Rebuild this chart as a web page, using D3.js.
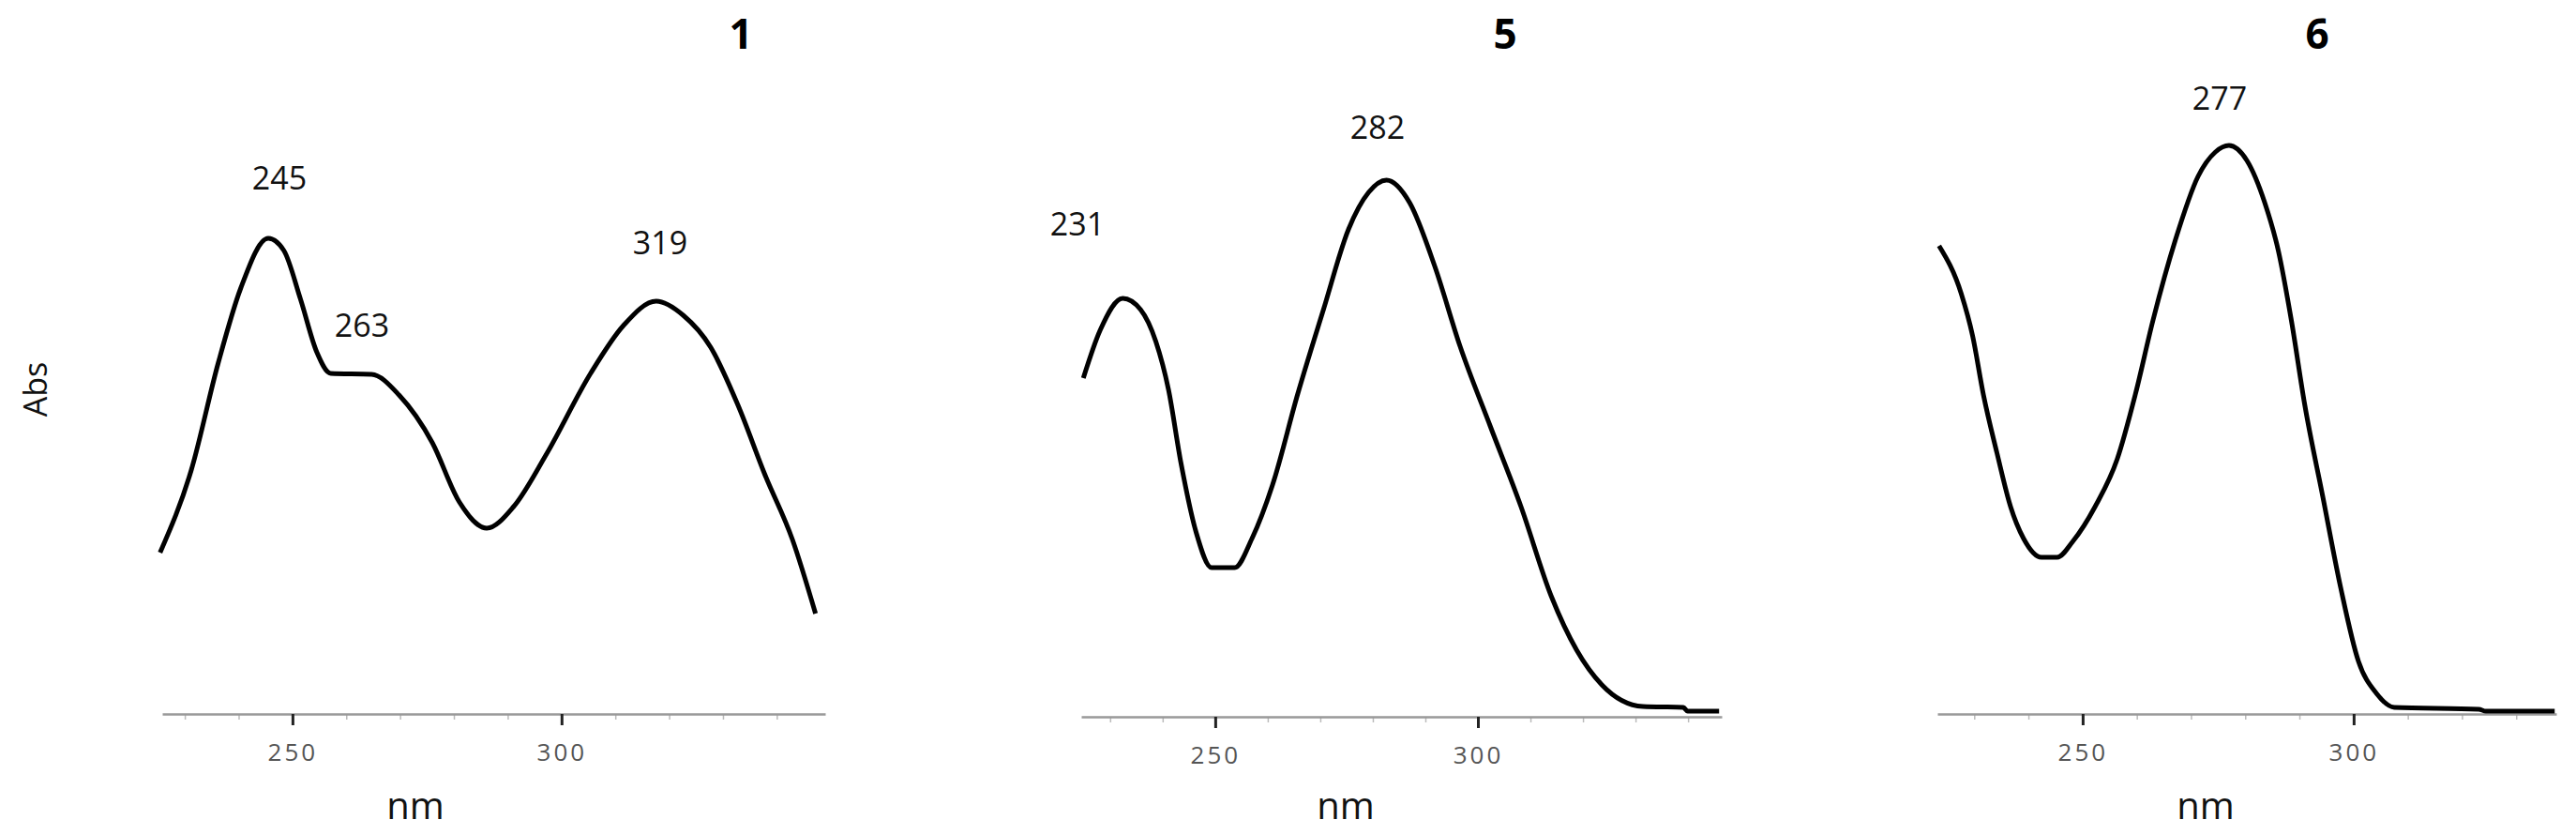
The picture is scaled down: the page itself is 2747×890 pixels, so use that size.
<!DOCTYPE html>
<html><head><meta charset="utf-8">
<script src="https://cdn.jsdelivr.net/npm/d3@7"></script>
<style>body{margin:0;background:#fff}</style></head>
<body><svg id="c" width="2747" height="890"></svg>
<script>
// Panel 1 (compound 1)
const nm1 = [225.4,231.2,236.2,240.4,245.5,248.4,251.5,254.5,257.1,264.7,269.8,276,281,286.1,291.1,297.2,305.4,311.5,317.6,322.6,327.7,332.8,337.8,342.9,347.2];
const abs1 = [0.172,0.260,0.374,0.454,0.507,0.494,0.442,0.386,0.363,0.362,0.340,0.289,0.226,0.198,0.221,0.277,0.363,0.414,0.440,0.425,0.391,0.329,0.255,0.186,0.107];
// Panel 2 (compound 5)
const nm5 = [224.9,228.1,232.4,235.8,238.7,241.1,243.5,246.4,249.3,253.7,257.0,260.9,265.7,270.6,275.4,279.2,282.6,287,291.8,296.6,302.4,308.2,314,318.8,323.6,331.4,339.1,339.9,345.9];
const abs5 = [0.361,0.412,0.446,0.434,0.400,0.349,0.270,0.196,0.159,0.159,0.190,0.247,0.344,0.434,0.520,0.559,0.572,0.548,0.480,0.395,0.309,0.224,0.128,0.071,0.034,0.011,0.010,0.006,0.006];
// Panel 3 (compound 6)
const nm6 = [223.5,227.6,229.7,231.7,234.2,236.7,239.1,242.4,245.3,248.2,252.3,256.4,259.7,263,267.1,271.3,274.5,277,280.3,283.6,286.1,288.5,291,294.3,297.6,300.9,304.2,307.5,323.1,324.4,337.1];
const abs6 = [0.499,0.448,0.403,0.340,0.278,0.221,0.187,0.167,0.167,0.184,0.221,0.272,0.340,0.420,0.505,0.573,0.599,0.606,0.590,0.545,0.494,0.420,0.329,0.232,0.135,0.056,0.022,0.007,0.005,0.003,0.003];
const titles = ["1","5","6"];
const tickValues = [250,300];
const peakNm1 = [245,263,319], peakNm5 = [231,282], peakNm6 = [277];

const panels = [
  {nm:nm1, abs:abs1, title:titles[0], peaks:peakNm1, x0:173, x1:880, d:[225.8,349], base:761,
   titleX:790, nmX:443, peakPos:[[298,190],[386,347],[704,259]]},
  {nm:nm5, abs:abs5, title:titles[1], peaks:peakNm5, x0:1153, x1:1836, d:[224.5,346.4], base:764,
   titleX:1605, nmX:1435, peakPos:[[1149,239],[1469,136]]},
  {nm:nm6, abs:abs6, title:titles[2], peaks:peakNm6, x0:2066, x1:2726, d:[223.2,337.4], base:761,
   titleX:2471, nmX:2352, peakPos:[[2367,105]]}
];
const svg = d3.select("#c");
const F = "'Open Sans', 'DejaVu Sans', sans-serif";

panels.forEach(p => {
  const x = d3.scaleLinear().domain(p.d).range([p.x0, p.x1]);
  const y = d3.scaleLinear().domain([0, 0.761]).range([p.base, p.base - 761]);
  const g = svg.append("g");
  // minor ticks
  const minor = d3.range(Math.ceil(p.d[0]/10)*10, p.d[1], 10).filter(v => v % 50 !== 0);
  g.append("g").attr("transform", `translate(0,${p.base})`)
    .call(d3.axisBottom(x).tickValues(minor).tickSize(6).tickFormat(""))
    .call(a => { a.select(".domain").remove(); a.selectAll("line").attr("stroke","#bbb").attr("stroke-width",1.5); });
  const ax = g.append("g").attr("transform", `translate(0,${p.base})`)
    .call(d3.axisBottom(x).tickValues(tickValues).tickSize(12).tickSizeOuter(0).tickPadding(20));
  ax.select(".domain").attr("stroke","#999").attr("stroke-width",2.5);
  ax.selectAll(".tick line").attr("stroke","#222").attr("stroke-width",3);
  ax.selectAll(".tick text").attr("fill","#555").style("font-family",F).style("font-size","26px").style("letter-spacing","3px");
  // curve
  const pts = p.nm.map((v,i)=>[v,p.abs[i]]);
  g.append("path").datum(pts)
    .attr("d", d3.line().x(d=>x(d[0])).y(d=>y(d[1])).curve(d3.curveMonotoneX))
    .attr("fill","none").attr("stroke","#000").attr("stroke-width",5).attr("stroke-linejoin","round");
  // title
  g.append("text").attr("x",p.titleX).attr("y",52).attr("text-anchor","middle")
    .style("font-family",F).style("font-weight","bold").style("font-size","44px").text(p.title);
  // peak labels
  p.peaks.forEach((v,i)=>{
    g.append("text").attr("x",p.peakPos[i][0]).attr("y",p.peakPos[i][1]+12).attr("text-anchor","middle")
      .style("font-family",F).style("font-size","34px").attr("fill","#111").text(v);
  });
  g.append("text").attr("x",p.nmX).attr("y",873).attr("text-anchor","middle")
    .style("font-family",F).style("font-size","40px").attr("fill","#111").text("nm");
});
svg.append("text").attr("transform","translate(50,415) rotate(-90)").attr("text-anchor","middle")
  .style("font-family",F).style("font-size","34px").attr("fill","#111").text("Abs");
</script></body></html>
